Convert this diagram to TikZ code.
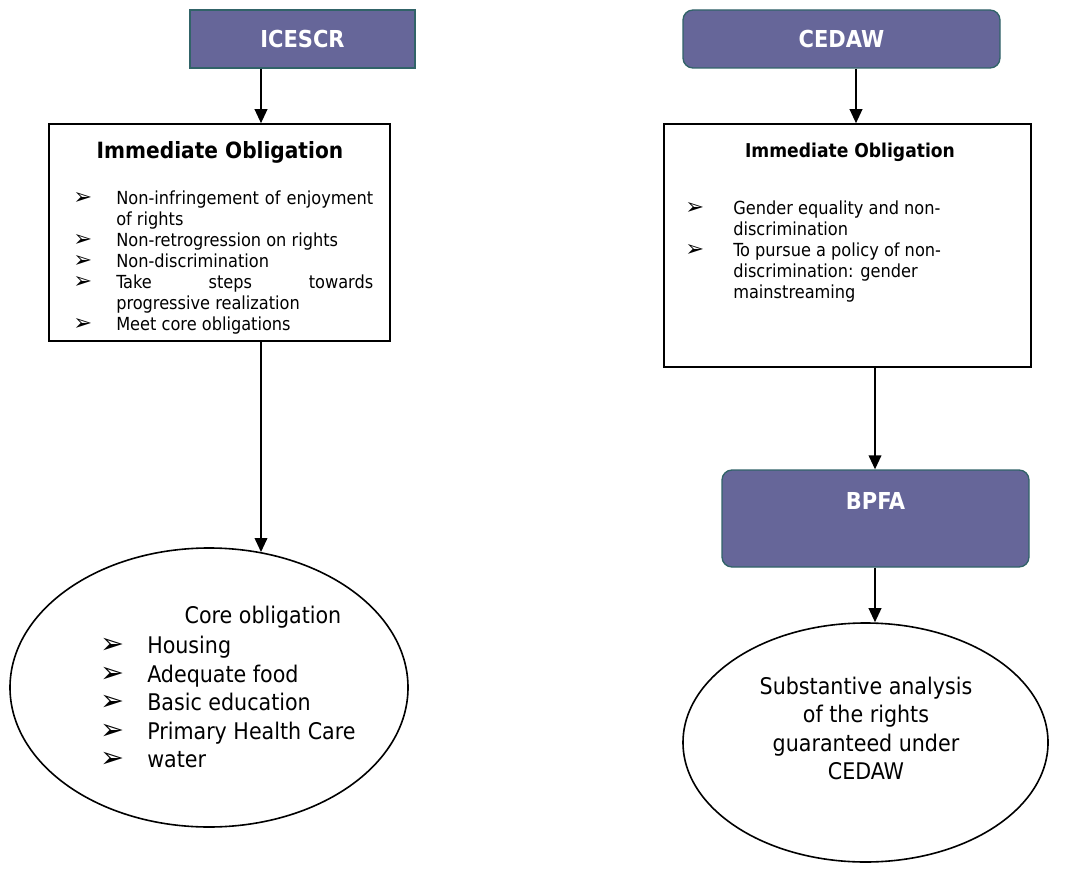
\documentclass[tikz,border=0pt]{standalone}
\usepackage{fontspec}
\usepackage{graphicx}
\setmainfont{DejaVu Sans Condensed}
\newfontfamily\symfont{DejaVu Sans}
\usetikzlibrary{shapes.geometric, arrows.meta}
\definecolor{treatyfill}{RGB}{102,102,153}
\definecolor{treatyedge}{RGB}{49,99,104}
\newcommand{\blt}{\smash{\scalebox{1.25}{\symfont ➢}}}
\newcommand{\bitem}[2]{\makebox[#1][l]{\blt}#2}
\tikzstyle{treaty} = [rectangle, minimum height=43.5pt, text centered, draw=treatyedge, fill=treatyfill, line width=1pt, text=white, font=\bfseries\fontsize{17.5}{20}\selectfont]
\tikzstyle{obligation} = [rectangle, draw=black, line width=1.2pt]
\tikzstyle{core} = [ellipse, draw=black, line width=1.2pt]
\tikzstyle{heading} = [font=\bfseries\fontsize{16.8}{20}\selectfont]
\tikzstyle{itemlist} = [align=left, inner sep=0pt, font=\fontsize{13.5}{15.75}\selectfont]
\tikzstyle{ovaltext} = [inner sep=0pt, font=\fontsize{17.2}{21.4}\selectfont]
\tikzstyle{arrow} = [line width=1.2pt,-{Triangle[width=9.5pt,length=10.5pt]}]
\begin{document}
\begin{tikzpicture}[x=0.75pt, y=-0.75pt]
                \useasboundingbox (0,0) rectangle (1087,873);
                \node (icescr) [treaty, minimum width=168.75pt] at (302.5,39) {ICESCR};
                \node (cedaw) [treaty, rounded corners=7.5pt, minimum width=237.75pt] at (841.5,39) {CEDAW};
                \node (immL) [obligation, minimum width=255.75pt, minimum height=162.75pt] at (219.5,232.5) {};
                \node (immR) [obligation, minimum width=275.25pt, minimum height=182.25pt] at (847.5,245.5) {};
                \node (bpfa) [treaty, rounded corners=7.5pt, minimum width=230.25pt, minimum height=72.75pt, align=center] at (875.5,518.5) {BPFA\\[6pt]~};
                \node (coreL) [core, minimum width=298.5pt, minimum height=209.25pt] at (209,687.5) {};
                \node (coreR) [core, minimum width=273.75pt, minimum height=179.25pt] at (865.5,742.5) {};

                % texts inside the boxes
                \node (immLtitle) [heading] at (220,152) {Immediate Obligation};
                \node (immLlist) [itemlist, anchor=north west] at (73,191) {%
                    \bitem{32.25pt}{\makebox[192.75pt][s]{Non-infringement of enjoyment}}\\
                    \hspace*{32.25pt}of rights\\
                    \bitem{32.25pt}{Non-retrogression on rights}\\
                    \bitem{32.25pt}{Non-discrimination}\\
                    \bitem{32.25pt}{\makebox[192.75pt][s]{Take steps towards}}\\
                    \hspace*{32.25pt}progressive realization\\
                    \bitem{32.25pt}{Meet core obligations}};
                \node (immRtitle) [heading, font=\bfseries\fontsize{14.3}{18}\selectfont] at (850,152) {Immediate Obligation};
                \node (immRlist) [itemlist, anchor=north west] at (685,201) {%
                    \bitem{36pt}{Gender equality and non-}\\
                    \hspace*{36pt}discrimination\\
                    \bitem{36pt}{To pursue a policy of non-}\\
                    \hspace*{36pt}discrimination: gender\\
                    \hspace*{36pt}mainstreaming};
                \node (coreLtitle) [ovaltext] at (263,617) {Core obligation};
                \node (coreLlist) [ovaltext, align=left, anchor=north west] at (100,636) {%
                    \bitem{35.25pt}{Housing}\\
                    \bitem{35.25pt}{Adequate food}\\
                    \bitem{35.25pt}{Basic education}\\
                    \bitem{35.25pt}{Primary Health Care}\\
                    \bitem{35.25pt}{water}};
                \node (coreRtext) [ovaltext, align=center] at (866,728.5) {Substantive analysis\\of the rights\\guaranteed under\\CEDAW};

                % connectors
                \coordinate (colL) at (261,0);
                \coordinate (colR) at (856,0);
                \coordinate (colB) at (875,0);
                \draw [arrow] (icescr.south -| colL) -- (immL.north -| colL);
                \draw [arrow] (immL.south -| colL) -- (coreL.69 -| colL);
                \draw [arrow] (cedaw.south -| colR) -- (immR.north -| colR);
                \draw [arrow] (immR.south -| colB) -- (bpfa.north -| colB);
                \draw [arrow] (bpfa.south -| colB) -- (coreR.north -| colB);
            \end{tikzpicture}
\end{document}
